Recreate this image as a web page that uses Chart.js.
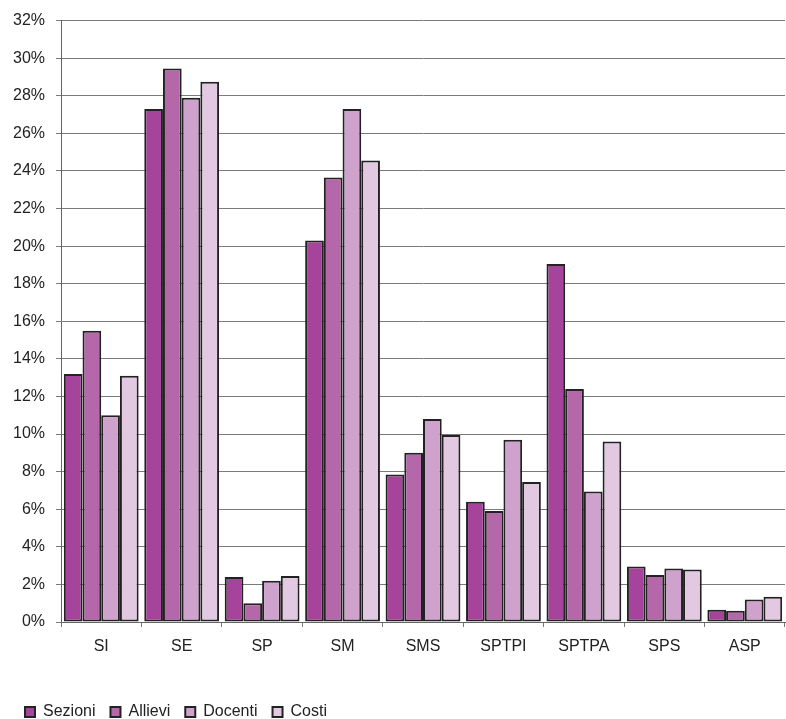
<!DOCTYPE html>
<html>
<head>
<meta charset="utf-8">
<script src="https://cdn.jsdelivr.net/npm/chart.js@4/dist/chart.umd.min.js"></script>
<style>
  html, body { margin: 0; padding: 0; background: #fff; }
  #wrap { width: 786px; height: 719px; position: relative; }
</style>
</head>
<body>
<div id="wrap"><canvas id="chart"></canvas></div>
<script>
// Category labels and the four series (percent values)
const CATEGORIES = ['SI', 'SE', 'SP', 'SM', 'SMS', 'SPTPI', 'SPTPA', 'SPS', 'ASP'];
const SEZIONI = [13.2, 27.3, 2.4, 20.3, 7.85, 6.4, 19.05, 2.95, 0.65];
const ALLIEVI = [15.5, 29.45, 1.0, 23.65, 9.0, 5.9, 12.4, 2.5, 0.6];
const DOCENTI = [11.0, 27.9, 2.2, 27.3, 10.8, 9.7, 6.95, 2.85, 1.2];
const COSTI   = [13.1, 28.75, 2.45, 24.55, 9.95, 7.45, 9.6, 2.8, 1.35];

const SERIES_NAMES = ['Sezioni', 'Allievi', 'Docenti', 'Costi'];
const COLORS = ['#a5449a', '#b468aa', '#cea2cc', '#e2c8e1'];

const FONT = { family: '"Liberation Sans", Arial, sans-serif', size: 16 };

const datasets = [SEZIONI, ALLIEVI, DOCENTI, COSTI].map((vals, i) => ({
  label: SERIES_NAMES[i],
  data: vals,
  backgroundColor: COLORS[i],
  borderColor: '#222',
  borderWidth: 2,
  borderSkipped: false,
  categoryPercentage: 0.93,
  barPercentage: 1.0
}));

new Chart(document.getElementById('chart'), {
  type: 'bar',
  data: { labels: CATEGORIES, datasets },
  options: {
    responsive: true,
    maintainAspectRatio: false,
    animation: false,
    layout: { padding: { left: 10, right: 1, top: 18, bottom: -11 } },
    plugins: {
      tooltip: { enabled: false },
      legend: {
        position: 'bottom',
        align: 'start',
        labels: {
          color: '#222',
          font: FONT,
          boxWidth: 10,
          boxHeight: 10,
          padding: 15
        }
      }
    },
    scales: {
      x: {
        grid: {
          offset: true,
          drawOnChartArea: false,
          drawTicks: true,
          tickLength: 5,
          color: '#777'
        },
        border: { color: '#666' },
        ticks: { color: '#222', font: FONT, padding: 10, maxRotation: 0 },
        afterFit: s => { s.height = 67; }
      },
      y: {
        min: 0,
        max: 32,
        grid: { color: '#7a7a7a', tickLength: 5, lineWidth: 1 },
        border: { color: '#666' },
        ticks: {
          stepSize: 2,
          color: '#222',
          font: FONT,
          padding: 11,
          callback: v => v + '%'
        },
        afterFit: s => { s.width = 51; }
      }
    }
  }
});
</script>
</body>
</html>
